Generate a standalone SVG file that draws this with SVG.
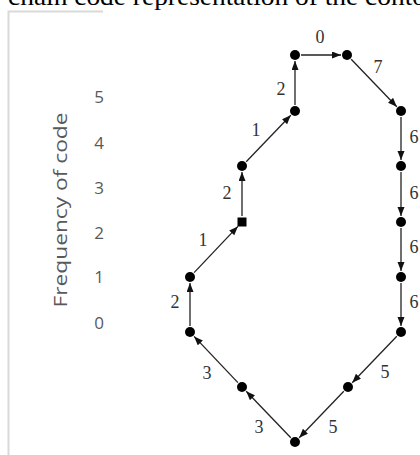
<svg xmlns="http://www.w3.org/2000/svg" width="420" height="455" viewBox="0 0 420 455">
<style>
.bg{fill:#fff}
.frame{stroke:#d9d9d9;stroke-width:2;fill:none}
.ax{font-family:"Open Sans","Liberation Sans",sans-serif;font-size:17px;fill:#595959;text-anchor:middle}
.yt{font-family:"Open Sans","Liberation Sans",sans-serif;font-size:19px;fill:#595959;text-anchor:middle}
.title{font-family:"Liberation Serif",serif;font-size:25px;fill:#000}
.dot{fill:#000}
.edge{stroke:#222;stroke-width:1.3;fill:none;marker-end:url(#ah)}
.lbl{font-family:"Liberation Serif",serif;font-size:18px;fill:#333;text-anchor:middle}
</style>
<defs>
<marker id="ah" markerUnits="userSpaceOnUse" markerWidth="10" markerHeight="8" refX="9" refY="3.5" orient="auto">
<path d="M0,0 L9,3.5 L0,7 z" fill="#111"/>
</marker>
</defs>
<rect class="bg" width="420" height="455"/>
<text class="title" x="8" y="5" textLength="418" lengthAdjust="spacingAndGlyphs">chain code representation of the conto</text>
<path class="frame" d="M103,11.5 H8.5 V455"/>
<g id="axis">
<text class="ax" x="99" y="103">5</text>
<text class="ax" x="99" y="149">4</text>
<text class="ax" x="99" y="194">3</text>
<text class="ax" x="99" y="239">2</text>
<text class="ax" x="99" y="283">1</text>
<text class="ax" x="99" y="329">0</text>
<text class="yt" transform="translate(67,210) rotate(-90)" textLength="195" lengthAdjust="spacingAndGlyphs">Frequency of code</text>
</g>
<g id="connectors">
<line class="edge" x1="190" y1="326" x2="190" y2="283"/>
<line class="edge" x1="194.1" y1="272.6" x2="237.9" y2="226.4"/>
<line class="edge" x1="242" y1="216" x2="242" y2="172"/>
<line class="edge" x1="246.2" y1="161.7" x2="290.8" y2="115.3"/>
<line class="edge" x1="295" y1="105" x2="295" y2="61"/>
<line class="edge" x1="301" y1="55" x2="341" y2="55"/>
<line class="edge" x1="351.2" y1="59.3" x2="396.8" y2="106.7"/>
<line class="edge" x1="401" y1="117" x2="401" y2="160"/>
<line class="edge" x1="401" y1="172" x2="401" y2="216"/>
<line class="edge" x1="401" y1="228" x2="401" y2="271"/>
<line class="edge" x1="401" y1="283" x2="401" y2="326"/>
<line class="edge" x1="396.8" y1="336.3" x2="352.2" y2="382.7"/>
<line class="edge" x1="343.8" y1="391.3" x2="299.2" y2="437.7"/>
<line class="edge" x1="290.8" y1="437.7" x2="246.2" y2="391.3"/>
<line class="edge" x1="237.9" y1="382.6" x2="194.1" y2="336.4"/>
</g>
<g id="labels">
<text class="lbl" x="320" y="43">0</text>
<text class="lbl" x="378" y="73">7</text>
<text class="lbl" x="281" y="95">2</text>
<text class="lbl" x="256" y="136">1</text>
<text class="lbl" x="227" y="199">2</text>
<text class="lbl" x="203" y="246">1</text>
<text class="lbl" x="175" y="308">2</text>
<text class="lbl" x="414" y="143">6</text>
<text class="lbl" x="414" y="199">6</text>
<text class="lbl" x="414" y="253">6</text>
<text class="lbl" x="414" y="308">6</text>
<text class="lbl" x="385" y="378">5</text>
<text class="lbl" x="333" y="433">5</text>
<text class="lbl" x="259" y="433">3</text>
<text class="lbl" x="207" y="379">3</text>
</g>
<g id="n1"><circle class="dot" cx="190" cy="332" r="5"/></g>
<g id="n2"><circle class="dot" cx="190" cy="277" r="5"/></g>
<g id="n3"><rect class="dot" x="237.5" y="217.5" width="9" height="9"/></g>
<g id="n4"><circle class="dot" cx="242" cy="166" r="5"/></g>
<g id="n5"><circle class="dot" cx="295" cy="111" r="5"/></g>
<g id="n6"><circle class="dot" cx="295" cy="55" r="5"/></g>
<g id="n7"><circle class="dot" cx="347" cy="55" r="5"/></g>
<g id="n8"><circle class="dot" cx="401" cy="111" r="5"/></g>
<g id="n9"><circle class="dot" cx="401" cy="166" r="5"/></g>
<g id="n10"><circle class="dot" cx="401" cy="222" r="5"/></g>
<g id="n11"><circle class="dot" cx="401" cy="277" r="5"/></g>
<g id="n12"><circle class="dot" cx="401" cy="332" r="5"/></g>
<g id="n13"><circle class="dot" cx="348" cy="387" r="5"/></g>
<g id="n14"><circle class="dot" cx="295" cy="442" r="5"/></g>
<g id="n15"><circle class="dot" cx="242" cy="387" r="5"/></g>
</svg>
